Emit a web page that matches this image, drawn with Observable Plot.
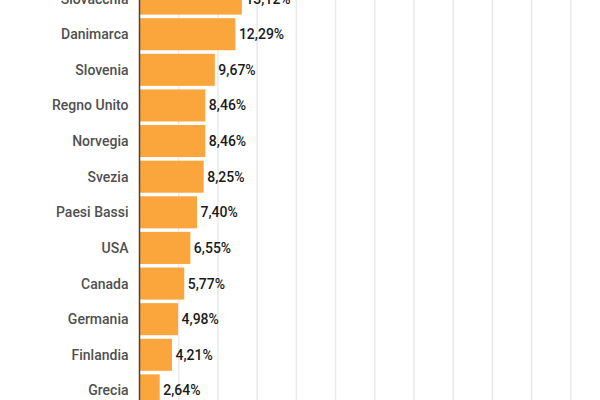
<!DOCTYPE html>
<html>
<head>
<meta charset="utf-8">
<script src="https://cdn.jsdelivr.net/npm/d3@7"></script>
<script src="https://cdn.jsdelivr.net/npm/@observablehq/plot@0.6"></script>
<style>
  html, body { margin: 0; padding: 0; background: #fff; overflow: hidden; width: 600px; height: 400px; }
  #chart svg { display: block; margin-top: -21px; }
</style>
</head>
<body>
<div id="chart"></div>
<script>
const countries = ["Slovacchia","Danimarca","Slovenia","Regno Unito","Norvegia","Svezia","Paesi Bassi","USA","Canada","Germania","Finlandia","Grecia"];
const values = [13.12,12.29,9.67,8.46,8.46,8.25,7.40,6.55,5.77,4.98,4.21,2.64];
const gridTicks = [5,10,15,20,25,30,35,40,45,50,55];

const data = countries.map((c, i) => ({country: c, value: values[i]}));
const fmt = v => v.toFixed(2).replace(".", ",") + "%";

const chart = Plot.plot({
  width: 600,
  height: 441,
  marginTop: 0,
  marginBottom: 10,
  marginLeft: 139,
  marginRight: 14,
  style: {fontFamily: "Roboto, sans-serif", fontSize: "14px", background: "#fff"},
  x: {domain: [0, 57], axis: null},
  y: {domain: countries, label: null, padding: 0.1, round: false},
  marks: [
    Plot.ruleX(gridTicks, {stroke: "#e9e9e9", strokeWidth: 1.5}),
    Plot.barX(data, {x: "value", y: "country", fill: "#FBA63C"}),
    Plot.text(data, {x: "value", y: "country", text: d => fmt(d.value), textAnchor: "start", dx: 3, fill: "#1a1a1a", fontWeight: 500, fontSize: 14}),
    Plot.axisY({tickSize: 0, tickPadding: 11, fontSize: 14, fontWeight: 500, color: "#505050", label: null}),
    Plot.ruleX([0], {stroke: "#444", strokeWidth: 1.5})
  ]
});
document.getElementById("chart").appendChild(chart);
</script>
</body>
</html>
